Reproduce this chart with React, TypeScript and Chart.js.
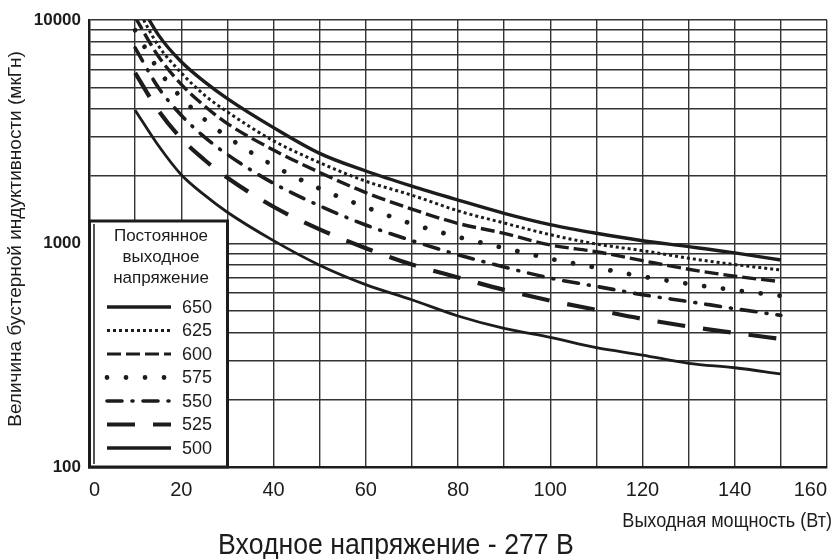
import React, { useEffect, useRef } from "react";
import { Chart, registerables } from "chart.js";

Chart.register(...registerables);

// ---- data ----
const POWER = [10, 15, 20, 25, 30, 40, 50, 60, 70, 80, 90, 100, 110, 120, 130, 140, 150];
const L650 = [13000, 8600, 6500, 5300, 4450, 3300, 2530, 2110, 1805, 1565, 1365, 1215, 1111, 1029, 968, 908, 844];
const L625 = [11800, 7700, 5800, 4620, 3880, 2880, 2300, 1900, 1645, 1400, 1235, 1095, 995, 929, 859, 805, 761];
const L600 = [10300, 6900, 5150, 4130, 3440, 2620, 2080, 1690, 1425, 1230, 1110, 985, 919, 838, 767, 714, 675];
const L575 = [9000, 6000, 4500, 3600, 3000, 2230, 1760, 1455, 1225, 1070, 955, 855, 780, 712, 660, 618, 583];
const L550 = [7500, 5000, 3750, 3000, 2500, 1860, 1475, 1210, 1030, 890, 785, 700, 643, 590, 550, 511, 477];
const L525 = [5800, 3950, 2950, 2370, 1970, 1460, 1157, 953, 805, 705, 620, 555, 505, 460, 425, 398, 374];
const L500 = [3950, 2750, 2030, 1650, 1380, 1030, 800, 655, 560, 474, 417, 380, 342, 317, 291, 278, 261];

const SERIES_LABELS = ["650", "625", "600", "575", "550", "525", "500"];
const Y_TICKS = [100, 200, 300, 400, 500, 600, 700, 800, 900, 1000, 2000, 3000, 4000, 5000, 6000, 7000, 8000, 9000, 10000];
const Y_LABELED = [100, 1000, 10000];
const LEGEND_TITLE = ["Постоянное", "выходное", "напряжение"];
const Y_TITLE = "Величина бустерной индуктивности (мкГн)";
const X_TITLE = "Выходная мощность (Вт)";
const CAPTION = "Входное напряжение - 277 В";

const SANS = '"Liberation Sans", Arial, sans-serif';
const INK = "#1c1c1c";

const STYLES = [
  { width: 3.4, dash: [], cap: "butt", legendWidth: 3.6 },
  { width: 3, dash: [3, 3], cap: "butt", legendWidth: 2.8 },
  { width: 3.4, dash: [14, 5], cap: "butt", legendWidth: 3 },
  { width: 4.8, dash: [0.01, 19], cap: "round", legendWidth: 4.8 },
  { width: 3.6, dash: [15, 10, 1, 10], cap: "round", legendWidth: 3.6 },
  { width: 4.2, dash: [28, 18], cap: "butt", legendWidth: 3.8 },
  { width: 2.8, dash: [], cap: "butt", legendWidth: 3.6 },
];

const legendPlugin = {
  id: "boxLegend",
  afterDraw(chart: any) {
    const { ctx, chartArea } = chart;
    const left = chartArea.left;
    const bottom = chartArea.bottom;
    const w = 138;
    const h = 246;
    const top = bottom - h;
    ctx.save();
    ctx.fillStyle = "#ffffff";
    ctx.fillRect(left, top, w, h);
    ctx.strokeStyle = INK;
    ctx.lineWidth = 3;
    ctx.strokeRect(left + 0.5, top, w, h);
    ctx.lineWidth = 1.5;
    ctx.beginPath();
    ctx.moveTo(left + 5, top + 3);
    ctx.lineTo(left + 5, bottom - 3);
    ctx.stroke();

    ctx.fillStyle = INK;
    ctx.textAlign = "center";
    ctx.textBaseline = "middle";
    ctx.font = "17px " + SANS;
    LEGEND_TITLE.forEach((t, i) => ctx.fillText(t, left + 72, top + 15 + i * 21));

    chart.data.datasets.forEach((ds: any, i: number) => {
      const y = top + 86 + i * 23.5;
      ctx.save();
      ctx.strokeStyle = INK;
      ctx.lineWidth = ds.legendWidth;
      ctx.lineCap = ds.borderCapStyle;
      ctx.setLineDash(ds.borderDash);
      ctx.beginPath();
      ctx.moveTo(left + 18, y);
      ctx.lineTo(left + 82, y);
      ctx.stroke();
      ctx.restore();
      ctx.fillStyle = INK;
      ctx.textAlign = "left";
      ctx.font = "18px " + SANS;
      ctx.fillText(ds.label, left + 93, y + 1);
    });
    ctx.restore();
  },
};

const textPlugin = {
  id: "texts",
  afterDraw(chart: any) {
    const { ctx } = chart;
    ctx.save();
    ctx.fillStyle = INK;
    ctx.textBaseline = "middle";
    // x-axis title, condensed, right aligned
    ctx.save();
    ctx.translate(832, 521);
    ctx.scale(0.86, 1);
    ctx.textAlign = "right";
    ctx.font = "21px " + SANS;
    ctx.fillText(X_TITLE, 0, 0);
    ctx.restore();
    // caption
    ctx.save();
    ctx.translate(396, 546);
    ctx.scale(0.92, 1);
    ctx.textAlign = "center";
    ctx.font = "29px " + SANS;
    ctx.fillText(CAPTION, 0, 0);
    ctx.restore();
    // y title
    ctx.translate(16, 239);
    ctx.rotate(-Math.PI / 2);
    ctx.textAlign = "center";
    ctx.font = "19px " + SANS;
    ctx.fillText(Y_TITLE, 0, 0);
    ctx.restore();
  },
};

export default function App() {
  const ref = useRef<HTMLCanvasElement | null>(null);
  useEffect(() => {
    if (!ref.current) return;
    const all = [L650, L625, L600, L575, L550, L525, L500];
    const datasets = all.map((arr, i) => ({
      label: SERIES_LABELS[i],
      data: arr.map((v, j) => ({ x: POWER[j], y: v })),
      borderColor: INK,
      borderWidth: STYLES[i].width,
      borderDash: STYLES[i].dash,
      borderCapStyle: STYLES[i].cap,
      legendWidth: STYLES[i].legendWidth,
      pointRadius: 0,
      cubicInterpolationMode: "monotone",
      fill: false,
    }));
    const chart = new Chart(ref.current, {
      type: "line",
      data: { datasets } as any,
      options: {
        animation: false,
        responsive: false,
        devicePixelRatio: 1,
        layout: { padding: { top: 20, right: 8, left: 0, bottom: 0 } },
        plugins: { legend: { display: false }, tooltip: { enabled: false }, title: { display: false } },
        scales: {
          x: {
            type: "linear",
            min: 0,
            max: 160,
            afterFit: (s: any) => {
              s.height = 92;
              s.paddingLeft = 0;
              s.paddingRight = 0;
            },
            ticks: {
              stepSize: 10,
              autoSkip: false,
              maxRotation: 0,
              padding: 11,
              align: "inner",
              color: INK,
              font: { family: SANS, size: 20 },
              callback: (v: any) => (Number(v) % 20 === 0 ? String(v) : ""),
            },
            grid: { color: "#333333", lineWidth: 1.4, drawTicks: false },
            border: { color: INK, width: 2.5 },
          },
          y: {
            type: "logarithmic",
            min: 100,
            max: 10000,
            afterFit: (s: any) => {
              s.width = 89;
              s.paddingTop = 0;
              s.paddingBottom = 0;
            },
            afterBuildTicks: (s: any) => {
              s.ticks = Y_TICKS.map((v) => ({ value: v, major: Y_LABELED.includes(v) }));
            },
            ticks: {
              autoSkip: false,
              padding: 8,
              color: INK,
              font: { family: SANS, size: 17, weight: "bold" },
              callback: (v: any) => (Y_LABELED.includes(Number(v)) ? String(v) : ""),
            },
            grid: { color: "#333333", lineWidth: 1.5, drawTicks: false },
            border: { color: INK, width: 2.5 },
          },
        },
      } as any,
      plugins: [legendPlugin, textPlugin],
    });
    return () => chart.destroy();
  }, []);
  return (
    <div style={{ position: "fixed", left: 0, top: 0, width: 835, height: 559, background: "#fff" }}>
      <canvas ref={ref} width={835} height={559} style={{ display: "block", width: 835, height: 559 }} />
    </div>
  );
}
